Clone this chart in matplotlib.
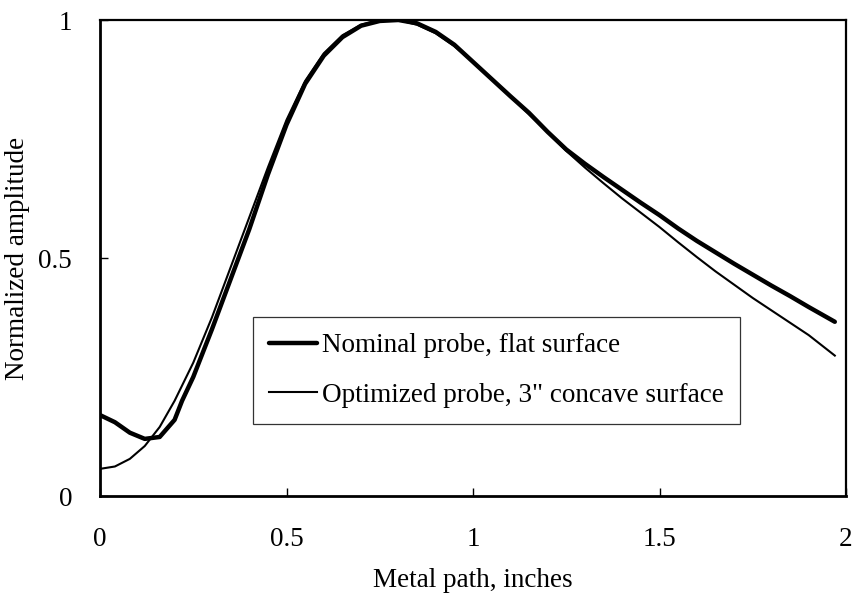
import matplotlib
matplotlib.use("Agg")
import matplotlib.pyplot as plt

# Data
x_nominal = [0.00, 0.04, 0.08, 0.12, 0.16, 0.20, 0.22, 0.25, 0.30, 0.35, 0.40, 0.45,
             0.50, 0.55, 0.60, 0.65, 0.70, 0.75, 0.80, 0.85, 0.90, 0.95, 1.00, 1.05,
             1.10, 1.15, 1.20, 1.25, 1.30, 1.35, 1.40, 1.45, 1.50, 1.55, 1.60, 1.65,
             1.70, 1.75, 1.80, 1.85, 1.90, 1.97]
y_nominal = [0.170, 0.155, 0.133, 0.120, 0.124, 0.160, 0.200, 0.250, 0.350, 0.455, 0.560, 0.675,
             0.780, 0.866, 0.925, 0.964, 0.988, 0.998, 1.000, 0.993, 0.975, 0.948, 0.912, 0.876,
             0.840, 0.805, 0.765, 0.728, 0.698, 0.670, 0.643, 0.616, 0.590, 0.562, 0.536, 0.512,
             0.488, 0.465, 0.442, 0.420, 0.397, 0.366]

x_optimized = [0.00, 0.04, 0.08, 0.12, 0.16, 0.20, 0.25, 0.30, 0.35, 0.40, 0.45,
               0.50, 0.55, 0.60, 0.65, 0.70, 0.75, 0.80, 0.85, 0.90, 0.95, 1.00, 1.05,
               1.10, 1.15, 1.20, 1.25, 1.30, 1.35, 1.40, 1.45, 1.50, 1.55, 1.60, 1.65,
               1.70, 1.75, 1.80, 1.85, 1.90, 1.97]
y_optimized = [0.057, 0.062, 0.078, 0.105, 0.145, 0.200, 0.280, 0.375, 0.480, 0.585, 0.690,
               0.790, 0.872, 0.930, 0.968, 0.990, 1.000, 1.000, 0.990, 0.972, 0.945, 0.912, 0.876,
               0.840, 0.802, 0.765, 0.725, 0.690, 0.657, 0.625, 0.595, 0.565, 0.533, 0.502, 0.472,
               0.444, 0.416, 0.390, 0.364, 0.338, 0.295]

labels = ["Nominal probe, flat surface", 'Optimized probe, 3" concave surface']
x_ticks = [0, 0.5, 1, 1.5, 2]
x_tick_labels = ["0", "0.5", "1", "1.5", "2"]
y_ticks = [0, 0.5, 1]
y_tick_labels = ["0", "0.5", "1"]

plt.rcParams['font.family'] = ['Liberation Serif', 'DejaVu Serif']
FS = 19.5

fig = plt.figure(figsize=(8.55, 5.97), dpi=100)
ax = fig.add_axes([100/855, 101/597, 746/855, 476/597])

ax.plot(x_nominal, y_nominal, color='black', lw=3.2, solid_capstyle='round', label=labels[0])
ax.plot(x_optimized, y_optimized, color='black', lw=1.5, label=labels[1])

ax.set_xlim(0, 2)
ax.set_ylim(0, 1)
ax.set_xticks(x_ticks)
ax.set_xticklabels(x_tick_labels)
ax.set_yticks(y_ticks)
ax.set_yticklabels(y_tick_labels)
ax.tick_params(direction='in', length=6, width=1, labelsize=FS, colors='black')
ax.tick_params(axis='x', pad=22)
ax.tick_params(axis='y', pad=20)
for side in ['left', 'bottom']:
    ax.spines[side].set_linewidth(2.0)
for side in ['top', 'right']:
    ax.spines[side].set_linewidth(1.6)

ax.set_xlabel("Metal path, inches", fontsize=FS, labelpad=12)
ax.set_ylabel("Normalized amplitude", fontsize=FS, labelpad=6)

leg = ax.legend(loc='upper left', bbox_to_anchor=(0.205, 0.376), fontsize=FS,
                frameon=True, fancybox=False, edgecolor='#333333', framealpha=1,
                handlelength=1.75, handletextpad=0.2, borderpad=0.6, labelspacing=0.9,
                borderaxespad=0)
leg.get_frame().set_linewidth(0.9)

fig.savefig("out.png", dpi=100)
